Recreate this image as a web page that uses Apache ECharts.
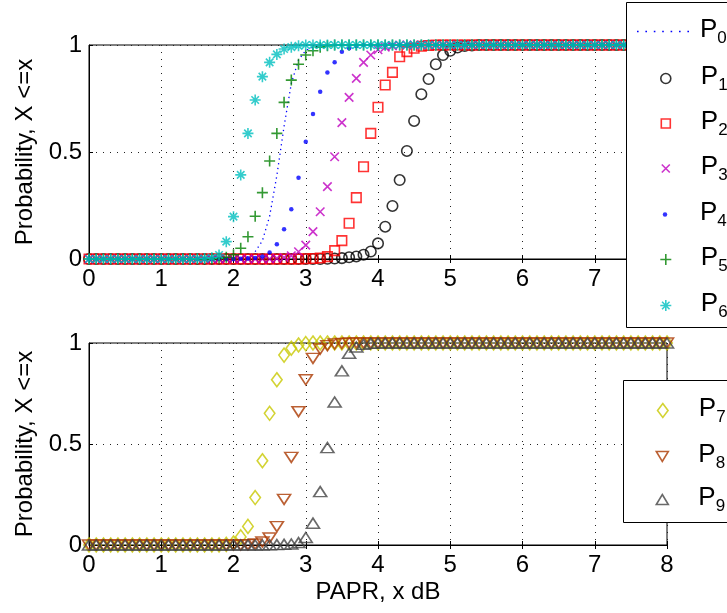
<!DOCTYPE html>
<html><head><meta charset="utf-8">
<script src="https://cdn.jsdelivr.net/npm/echarts@6/dist/echarts.min.js"></script>
<style>html,body{margin:0;padding:0;background:#fff}#c{width:727px;height:613px}</style>
</head><body><div id="c"></div>
<script>
// ---------------- data ----------------
const seriesNames = ['P0','P1','P2','P3','P4','P5','P6','P7','P8','P9'];
const yAxisTitle = 'Probability, X <=x';
const xAxisTitle = 'PAPR, x dB';
const xTicks = [0,1,2,3,4,5,6,7,8];
const yTicks = [0,0.5,1];
const xValues = [
0,0.1,0.2,0.3,0.4,0.5,0.6,0.7,0.8,0.9,
1,1.1,1.2,1.3,1.4,1.5,1.6,1.7,1.8,1.9,
2,2.1,2.2,2.3,2.4,2.5,2.6,2.7,2.8,2.9,
3,3.1,3.2,3.3,3.4,3.5,3.6,3.7,3.8,3.9,
4,4.1,4.2,4.3,4.4,4.5,4.6,4.7,4.8,4.9,
5,5.1,5.2,5.3,5.4,5.5,5.6,5.7,5.8,5.9,
6,6.1,6.2,6.3,6.4,6.5,6.6,6.7,6.8,6.9,
7,7.1,7.2,7.3,7.4,7.5,7.6,7.7,7.8,7.9,
8];
const p0 = [
0,0,0,0,0,0,0,0,0,0,
0,0,0,0,0,0,0,0,0,0,
0,0.003,0.01,0.035,0.085,0.2,0.39,0.62,0.82,0.93,
0.975,0.99,0.997,1,1,1,1,1,1,1,
1,1,1,1,1,1,1,1,1,1,
1,1,1,1,1,1,1,1,1,1,
1,1,1,1,1,1,1,1,1,1,
1,1,1,1,1,1,1,1,1,1,
1];
const p1 = [
0,0,0,0,0,0,0,0,0,0,
0,0,0,0,0,0,0,0,0,0,
0,0,0,0,0,0,0,0,0,0,
0,0,0,0.001,0.002,0.004,0.008,0.012,0.02,0.035,
0.073,0.151,0.248,0.369,0.505,0.645,0.77,0.841,0.91,0.953,
0.973,0.988,0.995,0.998,1,1,1,1,1,1,
1,1,1,1,1,1,1,1,1,1,
1,1,1,1,1,1,1,1,1,1,
1];
const p2 = [
0,0,0,0,0,0,0,0,0,0,
0,0,0,0,0,0,0,0,0,0,
0,0,0,0,0,0,0,0,0,0,
0.001,0.002,0.005,0.011,0.039,0.086,0.167,0.287,0.431,0.587,
0.709,0.813,0.872,0.945,0.969,0.985,0.994,0.998,1,1,
1,1,1,1,1,1,1,1,1,1,
1,1,1,1,1,1,1,1,1,1,
1,1,1,1,1,1,1,1,1,1,
1];
const p3 = [
0,0,0,0,0,0,0,0,0,0,
0,0,0,0,0,0,0,0,0,0,
0,0,0,0,0,0,0.003,0.007,0.015,0.034,
0.065,0.128,0.221,0.338,0.478,0.637,0.755,0.844,0.919,0.953,
0.978,0.99,0.996,1,1,1,1,1,1,1,
1,1,1,1,1,1,1,1,1,1,
1,1,1,1,1,1,1,1,1,1,
1,1,1,1,1,1,1,1,1,1,
1];
const p4 = [
0,0,0,0,0,0,0,0,0,0,
0,0,0,0,0,0,0,0,0,0,
0,0.001,0.002,0.005,0.012,0.03,0.069,0.139,0.232,0.38,
0.548,0.678,0.782,0.871,0.919,0.969,0.985,0.995,1,1,
1,1,1,1,1,1,1,1,1,1,
1,1,1,1,1,1,1,1,1,1,
1,1,1,1,1,1,1,1,1,1,
1,1,1,1,1,1,1,1,1,1,
1];
const p5 = [
0,0,0,0,0,0,0,0,0,0,
0,0,0,0,0,0,0,0.001,0.003,0.008,
0.02,0.05,0.104,0.2,0.31,0.458,0.587,0.732,0.836,0.91,
0.953,0.973,0.99,0.996,1,1,1,1,1,1,
1,1,1,1,1,1,1,1,1,1,
1,1,1,1,1,1,1,1,1,1,
1,1,1,1,1,1,1,1,1,1,
1,1,1,1,1,1,1,1,1,1,
1];
const p6 = [
0,0,0,0,0,0,0,0,0,0,
0,0,0,0,0,0.001,0.002,0.006,0.019,0.081,
0.198,0.393,0.587,0.743,0.852,0.919,0.956,0.981,0.99,0.996,
1,1,1,1,1,1,1,1,1,1,
1,1,1,1,1,1,1,1,1,1,
1,1,1,1,1,1,1,1,1,1,
1,1,1,1,1,1,1,1,1,1,
1,1,1,1,1,1,1,1,1,1,
1];
const p7 = [
0,0,0,0,0,0,0,0,0,0,
0,0,0,0,0,0,0,0,0,0.003,
0.01,0.04,0.092,0.235,0.417,0.652,0.818,0.94,0.974,0.99,
0.997,1,1,1,1,1,1,1,1,1,
1,1,1,1,1,1,1,1,1,1,
1,1,1,1,1,1,1,1,1,1,
1,1,1,1,1,1,1,1,1,1,
1,1,1,1,1,1,1,1,1,1,
1];
const p8 = [
0,0,0,0,0,0,0,0,0,0,
0,0,0,0,0,0,0,0,0,0,
0,0,0.002,0.005,0.015,0.035,0.091,0.226,0.434,0.66,
0.818,0.924,0.97,0.987,0.995,0.998,1,1,1,1,
1,1,1,1,1,1,1,1,1,1,
1,1,1,1,1,1,1,1,1,1,
1,1,1,1,1,1,1,1,1,1,
1,1,1,1,1,1,1,1,1,1,
1];
const p9 = [
0,0,0,0,0,0,0,0,0,0,
0,0,0,0,0,0,0,0,0,0,
0,0,0,0,0,0.001,0.002,0.003,0.005,0.012,
0.037,0.108,0.264,0.482,0.708,0.862,0.949,0.98,0.993,0.998,
1,1,1,1,1,1,1,1,1,1,
1,1,1,1,1,1,1,1,1,1,
1,1,1,1,1,1,1,1,1,1,
1,1,1,1,1,1,1,1,1,1,
1];
const seriesValues = [p0,p1,p2,p3,p4,p5,p6,p7,p8,p9];

// ---------------- styling ----------------
const FONT = 'Liberation Sans, Arial, Helvetica, sans-serif';
const TXT = '#000';
const STROKE = 1.6;
const marks = [
  {color:'#0000ff', line:true},
  {color:'#000000', symbol:'circle', size:10.5},
  {color:'#ff0000', symbol:'rect', size:9.5},
  {color:'#bf00bf', symbol:'path://M0,0L10,10M10,0L0,10', size:8.5},
  {color:'#0000ff', symbol:'circle', size:4.5, filled:true},
  {color:'#008000', symbol:'path://M5,0L5,10M0,5L10,5', size:11},
  {color:'#00bfbf', symbol:'path://M5,0L5,10M0,5L10,5M1.6,1.6L8.4,8.4M8.4,1.6L1.6,8.4', size:11},
  {color:'#c8c800', symbol:'diamond', size:[10.5,14]},
  {color:'#aa3800', symbol:'path://M0,0L12,0L6,10Z', size:[13,10]},
  {color:'#444444', symbol:'path://M6,0L12,10L0,10Z', size:[13,10]}
];
const dottedIcon = 'path://M0,0h1.6v1.6h-1.6zM8.4,0h1.6v1.6h-1.6zM16.8,0h1.6v1.6h-1.6zM25.2,0h1.6v1.6h-1.6zM33.6,0h1.6v1.6h-1.6zM42,0h1.6v1.6h-1.6zM50.4,0h1.6v1.6h-1.6z';

const grids = [
  {left:89, top:45, width:578, height:214},
  {left:89, top:343, width:578, height:202}
];

function bottomXAxis(gi, withName){
  return {
    type:'value', gridIndex:gi, min:0, max:8, interval:1, position:'bottom',
    axisLine:{show:true, onZero:false, lineStyle:{color:'#000', width:1}},
    axisTick:{show:true, inside:true, length:4, lineStyle:{color:'#000'}},
    axisLabel:{show:true, color:TXT, fontSize:24, fontFamily:FONT, margin:8},
    splitLine:{show:true, lineStyle:{color:'#222', width:1, type:[1,6]}},
    name: withName ? xAxisTitle : '', nameLocation:'middle', nameGap:35,
    nameTextStyle:{color:TXT, fontSize:24, fontFamily:FONT}
  };
}
function topXAxis(gi){
  return {
    type:'value', gridIndex:gi, min:0, max:8, interval:1, position:'top',
    axisLine:{show:false}, axisLabel:{show:false}, splitLine:{show:false},
    axisTick:{show:true, inside:true, length:4, lineStyle:{color:'#000'}}
  };
}
function leftYAxis(gi){
  return {
    type:'value', gridIndex:gi, min:0, max:1, interval:0.5, position:'left',
    axisLine:{show:true, onZero:false, lineStyle:{color:'#000', width:1}},
    axisTick:{show:true, inside:true, length:4, lineStyle:{color:'#000'}},
    axisLabel:{show:true, color:TXT, fontSize:24, fontFamily:FONT, margin:7},
    splitLine:{show:true, lineStyle:{color:'#222', width:1, type:[1,6]}},
    name:yAxisTitle, nameLocation:'middle', nameRotate:90, nameGap:50,
    nameTextStyle:{color:TXT, fontSize:24, fontFamily:FONT}
  };
}

const series = seriesNames.map((name, k) => {
  const gi = k < 7 ? 0 : 1;
  const m = marks[k];
  const data = xValues.map((x, i) => [x, seriesValues[k][i]]);
  if (m.line) {
    return {name, type:'line', xAxisIndex:gi, yAxisIndex:gi, data, symbol:'none', showSymbol:false,
      lineStyle:{color:m.color, width:1.3, type:[1.3,3.5]}, itemStyle:{color:m.color}, z:2, silent:true};
  }
  return {name, type:'scatter', xAxisIndex:gi, yAxisIndex:gi, data, symbol:m.symbol, symbolSize:m.size,
    itemStyle: m.filled ? {color:m.color} : {color:'rgba(0,0,0,0)', borderColor:m.color, borderWidth:STROKE},
    z:2, silent:true};
});

// legend layout: [name, icon centre y, icon centre x, text left, itemWidth, itemHeight]
const legendLayout = [
  ['P0', 28, 663, 700, 52, 2],
  ['P1', 75, 665, 700, 10, 10],
  ['P2', 120, 665, 700, 9, 9],
  ['P3', 165, 665, 700, 8, 8],
  ['P4', 211, 665, 700, 4.5, 4.5],
  ['P5', 256, 665, 700, 11, 11],
  ['P6', 302, 665, 700, 11, 11],
  ['P7', 407, 662, 698, 10.5, 14],
  ['P8', 453, 662, 698, 13, 10],
  ['P9', 496, 662, 698, 13, 10]
];
const BLOCK_H = 39;
const legends = legendLayout.map(([name, cy, cx, tx, w, h], k) => {
  const left = cx - w/2;
  const pad = Math.max(0, tx - (left + w + 5));
  const item = {name};
  if (k === 0) item.icon = dottedIcon;
  const filledLike = (k === 0 || k === 4);
  return {
    data:[item], left:left, top: cy - BLOCK_H/2, padding:0, itemGap:0,
    itemWidth:w, itemHeight:h, selectedMode:false, z:20,
    itemStyle: filledLike ? {borderWidth:0} : {borderWidth:STROKE},
    formatter: n => '{p|P}{s|' + n.slice(1) + '}',
    textStyle:{color:TXT, fontFamily:FONT, rich:{
      p:{fontSize:26, fontFamily:FONT, color:TXT, lineHeight:30, verticalAlign:'top', padding:[0,0,0,pad]},
      s:{fontSize:17, fontFamily:FONT, color:TXT, lineHeight:18, verticalAlign:'bottom', padding:[21,0,0,0]}
    }}
  };
});

const option = {
  animation:false,
  backgroundColor:'#fff',
  grid: grids.map(g => Object.assign({show:true, borderColor:'#000', borderWidth:1, backgroundColor:'rgba(0,0,0,0)', containLabel:false}, g)),
  xAxis:[bottomXAxis(0,false), bottomXAxis(1,true), topXAxis(0), topXAxis(1)],
  yAxis:[leftYAxis(0), leftYAxis(1)],
  legend: legends,
  graphic:[
    {type:'rect', z:10, shape:{x:626.5, y:2.5, width:140, height:325}, style:{fill:'#fff', stroke:'#000', lineWidth:1}},
    {type:'rect', z:10, shape:{x:623.5, y:380.5, width:140, height:142}, style:{fill:'#fff', stroke:'#000', lineWidth:1}}
  ],
  series
};
const chart = echarts.init(document.getElementById('c'), null, {renderer:'canvas'});
chart.setOption(option);
</script></body></html>
